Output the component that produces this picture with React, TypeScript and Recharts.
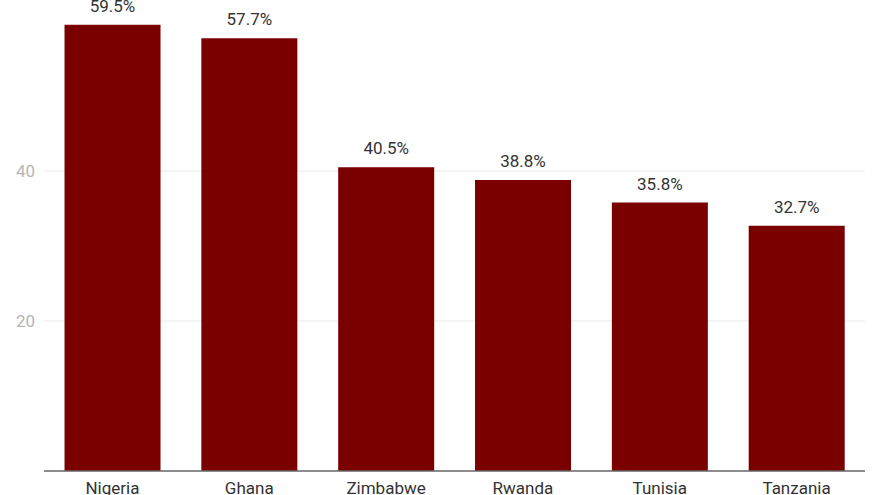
import React from "react";
import { BarChart, Bar, XAxis, YAxis, CartesianGrid, LabelList } from "recharts";

const countries = ["Nigeria", "Ghana", "Zimbabwe", "Rwanda", "Tunisia", "Tanzania"];
const shares = [59.5, 57.7, 40.5, 38.8, 35.8, 32.7];
const yTicks = [20, 40];

const data = countries.map((name, i) => ({ name, value: shares[i] }));

const FONT = "Roboto, 'Noto Sans', sans-serif";

export default function App() {
  return (
    <div style={{ position: "fixed", left: 0, top: 0, width: 880, height: 495, background: "#fff" }}>
      <BarChart
        width={880}
        height={495}
        data={data}
        margin={{ top: 21, right: 15, left: 0, bottom: 0 }}
        barCategoryGap="15%"
        style={{ fontFamily: FONT }}
      >
        <CartesianGrid vertical={false} horizontalValues={yTicks} stroke="#ebebeb" strokeWidth={1.2} />
        <XAxis
          dataKey="name"
          height={24}
          tickLine={false}
          tickSize={0}
          tickMargin={11}
          axisLine={{ stroke: "#666", strokeWidth: 1.5 }}
          tick={{ fontSize: 17, fill: "#333" }}
          interval={0}
        />
        <YAxis
          width={44}
          domain={[0, 60]}
          ticks={yTicks}
          axisLine={false}
          tickLine={false}
          tickSize={0}
          tickMargin={9}
          tick={{ fontSize: 17, fill: "#b5b5b5" }}
        />
        <Bar dataKey="value" fill="#7a0000" isAnimationActive={false}>
          <LabelList
            dataKey="value"
            position="top"
            offset={13}
            formatter={(v: any) => `${Number(v).toFixed(1)}%`}
            style={{ fontSize: 17, fill: "#333", fontFamily: FONT }}
          />
        </Bar>
      </BarChart>
    </div>
  );
}
